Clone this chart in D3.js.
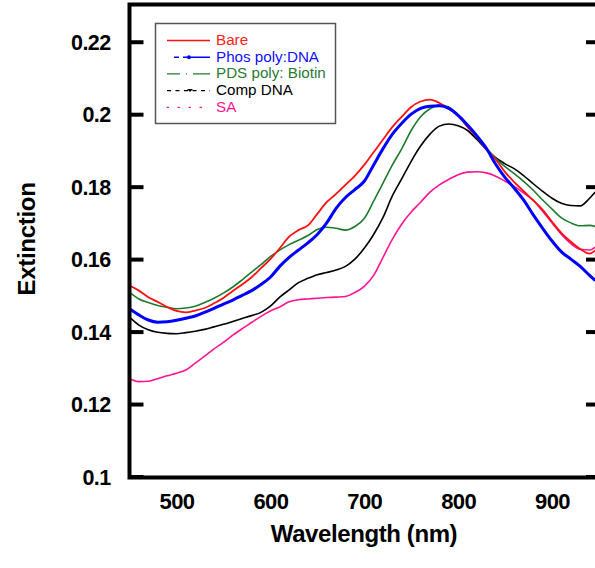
<!DOCTYPE html>
<html>
<head>
<meta charset="utf-8">
<script src="https://cdn.jsdelivr.net/npm/d3@7"></script>
<style>
  html, body { margin: 0; padding: 0; background: #fff; }
  svg { display: block; }
</style>
</head>
<body>
<svg id="chart" width="595" height="568"></svg>
<script>
// ---- data ----
const wavelengths = [450,460,470,480,490,500,510,520,530,540,550,560,570,580,590,600,610,620,630,640,650,660,670,680,690,700,710,720,730,740,750,760,770,780,790,800,810,820,830,840,850,860,870,880,890,900,910,920,930,940,946];

const bare = [.1527,.1513,.1495,.1482,.1468,.1457,.1453,.1458,.1465,.1478,.1493,.1512,.1530,.1550,.1575,.1600,.1630,.1662,.1680,.1693,.1725,.1757,.1780,.1805,.1830,.1860,.1895,.1930,.1965,.1993,.2020,.2035,.2040,.2031,.2015,.1995,.1965,.1937,.1903,.1875,.1840,.1812,.1787,.1762,.1736,.1703,.1672,.1648,.1628,.1615,.1624];

const phosDNA = [.1463,.1446,.1432,.1426,.1427,.1431,.1437,.1443,.1453,.1464,.1476,.1487,.1500,.1513,.1530,.1550,.1580,.1605,.1625,.1645,.1668,.1700,.1740,.1770,.1792,.1815,.1860,.1905,.1945,.1975,.2000,.2016,.2022,.2023,.2016,.1997,.1970,.1940,.1906,.1862,.1825,.1795,.1762,.1722,.1685,.1650,.1620,.1600,.1580,.1555,.1541];

const pdsBiotin = [.1509,.1490,.1480,.1472,.1467,.1463,.1465,.1470,.1480,.1492,.1506,.1523,.1543,.1564,.1585,.1607,.1625,.1640,.1652,.1665,.1682,.1688,.1685,.1680,.1690,.1712,.1760,.1810,.1860,.1905,.1955,.1993,.2015,.2025,.2020,.1997,.1965,.1937,.1907,.1878,.1855,.1835,.1814,.1790,.1763,.1738,.1714,.1700,.1692,.1693,.1690];

const compDNA = [.1440,.1418,.1405,.1398,.1395,.1394,.1397,.1401,.1406,.1413,.1420,.1428,.1436,.1444,.1453,.1470,.1495,.1515,.1535,.1547,.1557,.1563,.1570,.1580,.1600,.1630,.1668,.1715,.1775,.1822,.1870,.1912,.1945,.1967,.1973,.1968,.1955,.1930,.1903,.1880,.1863,.1849,.1830,.1808,.1787,.1768,.1754,.1748,.1747,.1768,.1785];

const sa = [.1270,.1262,.1263,.1270,.1278,.1285,.1294,.1313,.1332,.1352,.1370,.1390,.1408,.1425,.1442,.1457,.1468,.1482,.1488,.1490,.1492,.1494,.1495,.1497,.1508,.1525,.1555,.1605,.1655,.1697,.1730,.1757,.1785,.1805,.1820,.1833,.1840,.1841,.1838,.1829,.1815,.1800,.1782,.1762,.1732,.1700,.1668,.1643,.1627,.1625,.1633];

const seriesNames = ["Bare", "Phos poly:DNA", "PDS poly: Biotin", "Comp DNA", "SA"];
const seriesValues = [bare, phosDNA, pdsBiotin, compDNA, sa];
const seriesColors = ["#ff1010", "#0000ff", "#1e7a2e", "#000000", "#ff1493"];
const legendColors = ["#ff2020", "#1010ff", "#2a7a32", "#000000", "#ff1493"];

const yTicks = [0.1, 0.12, 0.14, 0.16, 0.18, 0.2, 0.22];
const yTickLabels = ["0.1", "0.12", "0.14", "0.16", "0.18", "0.2", "0.22"];
const xTicks = [500, 600, 700, 800, 900];
const xTickLabels = ["500", "600", "700", "800", "900"];

// ---- layout ----
const svg = d3.select("#chart");
const pLeft = 129.5, pRight = 599, pTop = 5.5, pBottom = 476.5;

const x = d3.scaleLinear().domain([450, 950]).range([pLeft, pRight]);
const y = d3.scaleLinear().domain([0.1, 0.23]).range([pBottom, pTop]);

svg.append("defs").append("clipPath").attr("id", "clip")
  .append("rect").attr("x", pLeft).attr("y", pTop).attr("width", pRight - pLeft).attr("height", pBottom - pTop);

const strokeWidths = [1.8, 3, 1.6, 1.6, 1.6];
const drawOrder = [4, 3, 2, 0, 1];
const line = d3.line().x((d, i) => x(wavelengths[i])).y(d => y(d)).curve(d3.curveMonotoneX);

const plot = svg.append("g").attr("clip-path", "url(#clip)");
drawOrder.forEach(k => {
  plot.append("path")
    .datum(seriesValues[k])
    .attr("fill", "none")
    .attr("stroke", seriesColors[k])
    .attr("stroke-width", strokeWidths[k])
    .attr("stroke-linejoin", "round")
    .attr("d", line);
});

// ---- frame ----
const frame = svg.append("g").attr("stroke", "#000").attr("stroke-width", 4).attr("fill", "none");
frame.append("rect").attr("x", pLeft).attr("y", pTop - 1).attr("width", pRight - pLeft).attr("height", pBottom - pTop + 2);

// left axis (inner ticks, labels)
const yAxisL = d3.axisLeft(y).tickValues(yTicks).tickSize(-14).tickPadding(19)
  .tickFormat((d, i) => yTickLabels[i]);
const gL = svg.append("g").attr("transform", `translate(${pLeft},0)`).call(yAxisL);
gL.select(".domain").remove();
gL.selectAll(".tick line").attr("stroke", "#000").attr("stroke-width", 4);
gL.selectAll(".tick text")
  .attr("fill", "#000")
  .attr("font-family", "'Liberation Sans', Arial, sans-serif")
  .attr("font-weight", "bold")
  .attr("font-size", 21.5)
  .attr("letter-spacing", -0.6)
  .attr("dy", "0.36em");

// right axis (inner ticks, no labels)
const yAxisR = d3.axisRight(y).tickValues(yTicks).tickSize(-13).tickFormat("");
const gR = svg.append("g").attr("transform", `translate(${pRight},0)`).call(yAxisR);
gR.select(".domain").remove();
gR.selectAll(".tick line").attr("stroke", "#000").attr("stroke-width", 4);

// bottom axis labels only
const xAxis = d3.axisBottom(x).tickValues(xTicks).tickSize(0).tickPadding(17)
  .tickFormat((d, i) => xTickLabels[i]);
const gB = svg.append("g").attr("transform", `translate(0,${pBottom})`).call(xAxis);
gB.select(".domain").remove();
gB.selectAll(".tick text")
  .attr("fill", "#000")
  .attr("font-family", "'Liberation Sans', Arial, sans-serif")
  .attr("font-weight", "bold")
  .attr("font-size", 22)
  .attr("letter-spacing", -0.6);

// axis titles
svg.append("text")
  .attr("x", 364).attr("y", 542)
  .attr("text-anchor", "middle")
  .attr("font-family", "'Liberation Sans', Arial, sans-serif")
  .attr("font-weight", "bold")
  .attr("font-size", 24)
  .attr("letter-spacing", -0.4)
  .text("Wavelength (nm)");

svg.append("text")
  .attr("transform", "translate(35,239) rotate(-90)")
  .attr("text-anchor", "middle")
  .attr("font-family", "'Liberation Sans', Arial, sans-serif")
  .attr("font-weight", "bold")
  .attr("font-size", 24)
  .attr("letter-spacing", -0.3)
  .text("Extinction");

// ---- legend ----
const lg = svg.append("g");
lg.append("rect").attr("x", 155.5).attr("y", 23.5).attr("width", 180).attr("height", 100)
  .attr("fill", "#fff").attr("stroke", "#555").attr("stroke-width", 1.5);

const legendDash = [null, "5,4,5,3,40", "13,6,1,6,40", "4,4.5", "1.5,9.5"];
const legendStart = [167, 174, 167, 167, 167];
seriesNames.forEach((name, i) => {
  const base = 45 + i * 16.7;
  const ly = base - 4.5;
  const p = lg.append("line")
    .attr("x1", legendStart[i]).attr("x2", 210)
    .attr("y1", ly).attr("y2", ly)
    .attr("stroke", seriesColors[i])
    .attr("stroke-width", i === 1 ? 1.6 : 1.3);
  if (legendDash[i]) p.attr("stroke-dasharray", legendDash[i]);
  if (i === 4) p.attr("stroke-linecap", "round");
  if (i === 1) {
    lg.append("circle").attr("cx", 189).attr("cy", ly).attr("r", 2).attr("fill", seriesColors[i]);
  }
  if (i === 3) {
    lg.append("path").attr("d", `M${187},${ly - 1.5}L${193},${ly - 1.5}L${190},${ly + 1.5}Z`).attr("fill", "#000");
  }
  lg.append("text")
    .attr("x", 216).attr("y", base)
    .attr("fill", legendColors[i])
    .attr("font-family", "'Liberation Sans', Arial, sans-serif")
    .attr("font-size", 15.2)
    .text(name);
});
</script>
</body>
</html>
